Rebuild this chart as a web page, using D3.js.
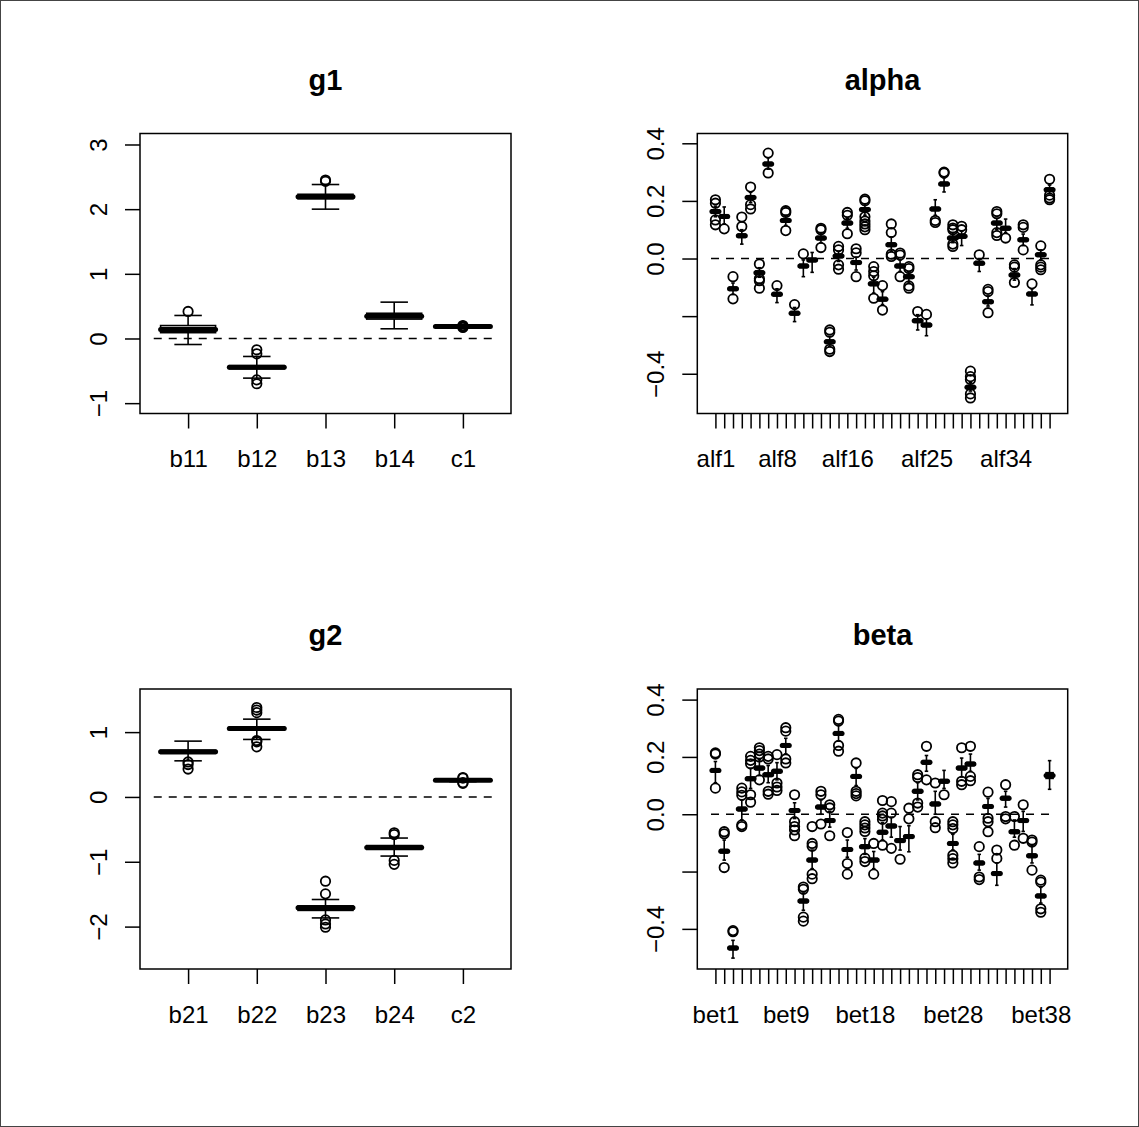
<!DOCTYPE html>
<html>
<head>
<meta charset="utf-8">
<script src="https://cdn.jsdelivr.net/npm/d3@7"></script>
<style>
  body { margin: 0; background: #fff; }
  svg { display: block; font-family: "Liberation Sans", Arial, Helvetica, sans-serif; }
</style>
</head>
<body>
<script>
// ---- data: [lower whisker, q1, median, q3, upper whisker] + outliers ----
const g1Names = ["b11", "b12", "b13", "b14", "c1"];
const g1Stats = [
  [-0.093, 0.09, 0.14, 0.2, 0.356],
  [-0.613, -0.47, -0.443, -0.42, -0.278],
  [2.0, 2.16, 2.19, 2.23, 2.381],
  [0.15, 0.3, 0.345, 0.39, 0.562],
  [0.165, 0.175, 0.186, 0.195, 0.205]
];
const g1Out = [[0.418], [-0.175, -0.237, -0.64, -0.7], [2.45, 2.43], [], [0.2, 0.19, 0.18, 0.17]];

const g2Names = ["b21", "b22", "b23", "b24", "c2"];
const g2Stats = [
  [0.557, 0.67, 0.696, 0.72, 0.861],
  [0.887, 1.03, 1.057, 1.08, 1.2],
  [-1.866, -1.75, -1.711, -1.68, -1.582],
  [-0.912, -0.81, -0.778, -0.75, -0.634],
  [0.235, 0.245, 0.258, 0.27, 0.28]
];
const g2Out = [[0.54, 0.5, 0.43], [1.38, 1.34, 1.3, 0.87, 0.85, 0.773],
  [-1.3, -1.495, -1.897, -1.959, -2.01], [-0.552, -0.58, -0.979, -1.04], [0.29, 0.3, 0.22, 0.21]];

const alphaNames = d3.range(1, 40).map(i => "alf" + i);
const alphaTickLabels = ["alf1", "alf8", "alf16", "alf25", "alf34"];
const alphaStats = [
  [0.145, 0.157, 0.163, 0.169, 0.182], [0.12, 0.14, 0.146, 0.152, 0.179],
  [-0.125, -0.111, -0.105, -0.099, -0.085], [0.05, 0.073, 0.079, 0.085, 0.1],
  [0.195, 0.206, 0.212, 0.218, 0.23], [-0.065, -0.055, -0.049, -0.043, -0.032],
  [0.31, 0.322, 0.328, 0.334, 0.35], [-0.153, -0.13, -0.124, -0.118, -0.105],
  [0.115, 0.126, 0.132, 0.138, 0.15], [-0.219, -0.196, -0.19, -0.184, -0.17],
  [-0.063, -0.032, -0.026, -0.02, -0.005], [-0.048, -0.011, -0.005, 0.001, 0.021],
  [0.055, 0.065, 0.071, 0.077, 0.09], [-0.305, -0.295, -0.289, -0.283, -0.27],
  [-0.01, 0.003, 0.009, 0.015, 0.025], [0.105, 0.117, 0.123, 0.129, 0.14],
  [-0.04, -0.02, -0.014, -0.008, 0.005], [0.15, 0.164, 0.17, 0.176, 0.19],
  [-0.12, -0.094, -0.088, -0.082, -0.065], [-0.16, -0.147, -0.141, -0.135, -0.115],
  [0.025, 0.042, 0.048, 0.054, 0.075], [-0.045, -0.032, -0.026, -0.02, -0.005],
  [-0.085, -0.069, -0.063, -0.057, -0.045], [-0.248, -0.222, -0.216, -0.21, -0.195],
  [-0.268, -0.237, -0.231, -0.225, -0.21], [0.15, 0.166, 0.172, 0.178, 0.204],
  [0.231, 0.253, 0.259, 0.265, 0.28], [0.055, 0.065, 0.071, 0.077, 0.09],
  [0.045, 0.071, 0.077, 0.083, 0.095], [-0.46, -0.453, -0.447, -0.441, -0.43],
  [-0.045, -0.022, -0.016, -0.01, 0.0], [-0.165, -0.156, -0.15, -0.144, -0.13],
  [0.1, 0.117, 0.123, 0.129, 0.14], [0.09, 0.099, 0.105, 0.111, 0.137],
  [-0.075, -0.063, -0.057, -0.051, -0.035], [0.045, 0.059, 0.065, 0.071, 0.085],
  [-0.161, -0.129, -0.123, -0.117, -0.105], [-0.005, 0.007, 0.013, 0.019, 0.03],
  [0.225, 0.233, 0.239, 0.245, 0.255]
];
const alphaOut = [
  [0.204, 0.192, 0.134, 0.117], [0.103], [-0.063, -0.14], [0.144, 0.111],
  [0.248, 0.187, 0.172], [-0.019, -0.07, -0.077, -0.103], [0.366, 0.297], [-0.094],
  [0.166, 0.16, 0.097], [-0.16], [0.016], [], [0.105, 0.1, 0.038],
  [-0.248, -0.256, -0.315, -0.323], [0.042, 0.03, -0.022, -0.037], [0.16, 0.15, 0.086],
  [0.034, 0.02, -0.063], [0.206, 0.2, 0.145, 0.13, 0.12, 0.11, 0.1],
  [-0.028, -0.045, -0.06, -0.138], [-0.094, -0.179], [0.12, 0.09, 0.015, 0.007],
  [0.019, 0.012, -0.063], [-0.028, -0.035, -0.095, -0.103], [-0.184], [-0.194],
  [0.132, 0.125], [0.297, 0.3], [0.117, 0.106, 0.1, 0.05, 0.042], [0.112, 0.1],
  [-0.391, -0.41, -0.42, -0.47, -0.484], [0.013], [-0.107, -0.115, -0.188],
  [0.163, 0.155, 0.09, 0.08], [0.071], [-0.022, -0.03, -0.083], [0.117, 0.108, 0.03],
  [-0.088], [0.044, -0.022, -0.03, -0.039], [0.275, 0.22, 0.21, 0.204]
];

const betaNames = d3.range(1, 40).map(i => "bet" + i);
const betaTickLabels = ["bet1", "bet9", "bet18", "bet28", "bet38"];
const betaStats = [
  [0.11, 0.147, 0.153, 0.159, 0.184], [-0.16, -0.135, -0.129, -0.123, -0.09],
  [-0.502, -0.473, -0.467, -0.461, -0.44], [-0.02, 0.012, 0.018, 0.024, 0.05],
  [0.09, 0.118, 0.124, 0.13, 0.16], [0.135, 0.155, 0.161, 0.167, 0.19],
  [0.11, 0.132, 0.138, 0.144, 0.17], [0.12, 0.144, 0.15, 0.156, 0.18],
  [0.21, 0.234, 0.24, 0.246, 0.265], [-0.015, 0.007, 0.013, 0.019, 0.04],
  [-0.335, -0.309, -0.303, -0.297, -0.275], [-0.19, -0.166, -0.16, -0.154, -0.125],
  [0.0, 0.019, 0.025, 0.031, 0.05], [-0.045, -0.028, -0.022, -0.016, 0.01],
  [0.255, 0.276, 0.282, 0.288, 0.31], [-0.15, -0.129, -0.123, -0.117, -0.09],
  [0.1, 0.126, 0.132, 0.138, 0.16], [-0.14, -0.119, -0.113, -0.107, -0.085],
  [-0.19, -0.166, -0.16, -0.154, -0.13], [-0.09, -0.069, -0.063, -0.057, -0.03],
  [-0.08, -0.047, -0.041, -0.035, -0.01], [-0.125, -0.098, -0.092, -0.086, -0.043],
  [-0.131, -0.084, -0.078, -0.072, -0.04], [0.05, 0.074, 0.08, 0.086, 0.11],
  [0.15, 0.175, 0.181, 0.187, 0.205], [0.0, 0.03, 0.036, 0.042, 0.08],
  [0.09, 0.109, 0.115, 0.121, 0.153], [-0.125, -0.108, -0.102, -0.096, -0.07],
  [0.13, 0.155, 0.161, 0.167, 0.196], [0.15, 0.169, 0.175, 0.181, 0.21],
  [-0.195, -0.176, -0.17, -0.164, -0.14], [0.0, 0.021, 0.027, 0.033, 0.055],
  [-0.248, -0.213, -0.207, -0.201, -0.17], [0.025, 0.05, 0.056, 0.062, 0.08],
  [-0.08, -0.067, -0.061, -0.055, -0.02], [-0.06, -0.028, -0.022, -0.016, 0.01],
  [-0.17, -0.151, -0.145, -0.139, -0.11], [-0.31, -0.291, -0.285, -0.279, -0.255],
  [0.087, 0.125, 0.135, 0.145, 0.187]
];
const betaOut = [
  [0.214, 0.21, 0.091], [-0.061, -0.068, -0.186], [-0.406, -0.41],
  [0.091, 0.078, 0.066, -0.037, -0.043], [0.202, 0.188, 0.176, 0.068, 0.042],
  [0.232, 0.222, 0.21, 0.2, 0.12], [0.202, 0.193, 0.08, 0.07], [0.208, 0.109, 0.095, 0.083],
  [0.302, 0.29, 0.193, 0.179], [0.068, -0.026, -0.043, -0.055, -0.075],
  [-0.254, -0.262, -0.359, -0.373], [-0.043, -0.102, -0.112, -0.209, -0.225],
  [0.08, 0.068, -0.034], [0.033, 0.022, -0.075], [0.331, 0.325, 0.24, 0.22],
  [-0.064, -0.172, -0.209], [0.179, 0.08, 0.072, 0.064],
  [-0.026, -0.037, -0.048, -0.06, -0.153, -0.165], [-0.102, -0.209],
  [0.048, 0.004, -0.006, -0.018, -0.108], [0.044, 0.004, -0.119], [-0.157],
  [0.021, -0.016], [0.138, 0.128, 0.039, 0.025], [0.237, 0.12], [0.109, -0.026, -0.047],
  [0.068], [-0.026, -0.037, -0.05, -0.143, -0.155, -0.17], [0.232, 0.115, 0.103],
  [0.237, 0.132, 0.117], [-0.113, -0.219, -0.228], [0.077, -0.014, -0.026, -0.061],
  [-0.125, -0.154], [0.103, -0.008, -0.016], [-0.008, -0.108], [0.033, -0.084],
  [-0.09, -0.097, -0.195], [-0.23, -0.237, -0.33, -0.342], []
];

const bigTicks = [-1, 0, 1, 2, 3];
const g2Ticks = [-2, -1, 0, 1];
const smallTicks = [-0.4, -0.2, 0.0, 0.2, 0.4];
const smallTickLabels = ["\u22120.4", "", "0.0", "0.2", "0.4"];

// ---- layout ----
const W = 1139, H = 1127;
const svg = d3.select("body").append("svg").attr("width", W).attr("height", H);
svg.append("rect").attr("x", 0.5).attr("y", 0.5).attr("width", W - 1).attr("height", H - 1)
  .attr("fill", "#fff").attr("stroke", "#444").attr("stroke-width", 1);

const fmtBig = d => d < 0 ? "\u2212" + Math.abs(d) : String(d);

const panels = [
  { title: "g1", names: g1Names, shown: g1Names, stats: g1Stats, out: g1Out,
    yDomain: [-1.16, 3.17], yTicks: bigTicks, yLabels: bigTicks.map(fmtBig),
    x0: 140, x1: 511, y0: 133.5, y1: 413.5 },
  { title: "alpha", names: alphaNames, shown: alphaTickLabels, stats: alphaStats, out: alphaOut,
    yDomain: [-0.538, 0.434], yTicks: smallTicks, yLabels: smallTickLabels,
    x0: 697.3, x1: 1067.7, y0: 133.5, y1: 413.5 },
  { title: "g2", names: g2Names, shown: g2Names, stats: g2Stats, out: g2Out,
    yDomain: [-2.654, 1.665], yTicks: g2Ticks, yLabels: g2Ticks.map(fmtBig),
    x0: 140, x1: 511, y0: 689, y1: 969 },
  { title: "beta", names: betaNames, shown: betaTickLabels, stats: betaStats, out: betaOut,
    yDomain: [-0.54, 0.437], yTicks: smallTicks, yLabels: smallTickLabels,
    x0: 697.3, x1: 1067.7, y0: 689, y1: 969 }
];

panels.forEach(drawPanel);

function drawPanel(p) {
  const n = p.names.length;
  const x = d3.scaleLinear().domain([0.5 - 0.04 * n, n + 0.5 + 0.04 * n]).range([p.x0, p.x1]);
  const y = d3.scaleLinear().domain(p.yDomain).range([p.y1, p.y0]);
  const bw = (x(1) - x(0)) * 0.8;
  const g = svg.append("g");

  // boxes
  const box = g.selectAll("g.box").data(p.stats).enter().append("g").attr("class", "box")
    .attr("stroke", "#000").attr("fill", "none");
  box.each(function (s, i) {
    const b = d3.select(this);
    const cx = x(i + 1);
    b.append("line").attr("x1", cx).attr("x2", cx).attr("y1", y(s[0])).attr("y2", y(s[1])).attr("stroke-width", 1.6);
    b.append("line").attr("x1", cx).attr("x2", cx).attr("y1", y(s[3])).attr("y2", y(s[4])).attr("stroke-width", 1.6);
    [s[0], s[4]].forEach(v => {
      b.append("line").attr("x1", cx - bw / 4).attr("x2", cx + bw / 4)
        .attr("y1", y(v)).attr("y2", y(v)).attr("stroke-width", 1.6);
    });
    b.append("rect").attr("x", cx - bw / 2).attr("width", bw)
      .attr("y", y(s[3])).attr("height", y(s[1]) - y(s[3])).attr("stroke-width", 1.6);
    b.append("line").attr("x1", cx - bw / 2).attr("x2", cx + bw / 2)
      .attr("y1", y(s[2])).attr("y2", y(s[2])).attr("stroke-width", 5).attr("stroke-linecap", "round");
    b.selectAll("circle").data(p.out[i]).enter().append("circle")
      .attr("cx", cx).attr("cy", d => y(d)).attr("r", 4.7).attr("stroke-width", 1.8);
  });

  // dashed zero line
  g.append("line").attr("x1", x(0.5)).attr("x2", x(n + 0.5)).attr("y1", y(0)).attr("y2", y(0))
    .attr("stroke", "#000").attr("stroke-width", 1.4).attr("stroke-dasharray", "8,7");

  // plot frame
  g.append("rect").attr("x", p.x0).attr("y", p.y0).attr("width", p.x1 - p.x0).attr("height", p.y1 - p.y0)
    .attr("fill", "none").attr("stroke", "#000").attr("stroke-width", 1.5);

  // y axis
  const ya = g.append("g").attr("transform", `translate(${p.x0},0)`)
    .call(d3.axisLeft(y).tickValues(p.yTicks).tickSize(15).tickFormat((d, i) => p.yLabels[i]));
  ya.select(".domain").remove();
  ya.selectAll(".tick line").attr("stroke-width", 1.5);
  ya.selectAll("text").attr("transform", "rotate(-90)").attr("x", 0).attr("y", -33).attr("dy", 0)
    .attr("text-anchor", "middle").attr("font-size", 24).attr("font-family", "Liberation Sans, Arial, sans-serif")
    .attr("fill", "#000");

  // x axis
  const xa = g.append("g").attr("transform", `translate(0,${p.y1})`)
    .call(d3.axisBottom(x).tickValues(d3.range(1, n + 1)).tickSize(15)
      .tickFormat(d => p.shown.includes(p.names[d - 1]) ? p.names[d - 1] : ""));
  xa.select(".domain").remove();
  xa.selectAll(".tick line").attr("stroke-width", 1.5);
  xa.selectAll("text").attr("y", 53.5).attr("dy", 0).attr("font-size", 24)
    .attr("font-family", "Liberation Sans, Arial, sans-serif").attr("fill", "#000");

  // title
  g.append("text").attr("x", (p.x0 + p.x1) / 2).attr("y", p.y0 - 44)
    .attr("text-anchor", "middle").attr("font-size", 29).attr("font-weight", "bold")
    .text(p.title);
}
</script>
</body>
</html>
